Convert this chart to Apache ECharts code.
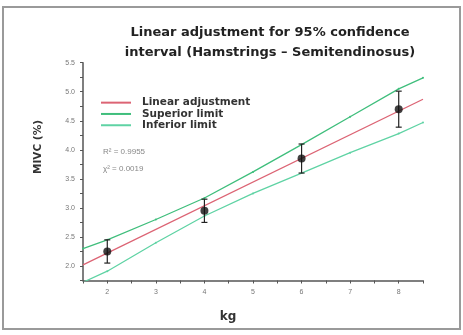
<!DOCTYPE html>
<html><head><meta charset="utf-8">
<script src="https://cdn.jsdelivr.net/npm/echarts@6/dist/echarts.min.js"></script>
<style>html,body{margin:0;padding:0;background:#fff}#c{width:463px;height:335px}</style>
</head><body><div id="c"></div>
<script>
// ---- data ----
const kg = [2, 4, 6, 8];
const mivcMean = [2.25, 2.95, 3.85, 4.70];
const mivcErr = [0.20, 0.20, 0.25, 0.31];
const fitX = [1.5, 8.5];
const fitY = [2.02, 4.87];
const limitX = [1.5, 2, 3, 4, 5, 6, 7, 8, 8.5];
const upperY = [2.30, 2.45, 2.80, 3.17, 3.62, 4.09, 4.57, 5.05, 5.24];
const lowerY = [1.72, 1.91, 2.40, 2.86, 3.25, 3.60, 3.95, 4.28, 4.47];
const xTickLabels = ['2', '3', '4', '5', '6', '7', '8'];
const yTickLabels = ['2.0', '2.5', '3.0', '3.5', '4.0', '4.5', '5.0', '5.5'];
const seriesNames = ['Linear adjustment', 'Superior limit', 'Inferior limit'];
const fitStats = ['R\u00B2 = 0.9955', '\u03C7\u00B2 = 0.0019'];

const FONT = 'Liberation Sans, Arial, sans-serif';
const WFONT = 'DejaVu Sans, Verdana, sans-serif';
const zip = (a, b) => a.map((v, i) => [v, b[i]]);

const chart = echarts.init(document.getElementById('c'), null, {renderer: 'canvas'});
chart.setOption({
  backgroundColor: '#fff',
  animation: false,
  title: {
    text: 'Linear adjustment for 95% confidence\ninterval (Hamstrings \u2013 Semitendinosus)',
    left: 265, top: 18, textAlign: 'center',
    textStyle: {fontFamily: WFONT, fontSize: 13, fontWeight: 'bold', color: '#222', lineHeight: 20}
  },
  legend: {
    orient: 'vertical', left: 96, top: 92, itemGap: 0,
    itemWidth: 30, itemHeight: 2, icon: 'rect',
    data: seriesNames,
    textStyle: {fontFamily: WFONT, fontSize: 10.5, fontWeight: 'bold', color: '#333', lineHeight: 11.3, padding: [0, 0, 0, 6]}
  },
  grid: {left: 83, right: 40, top: 62.7, bottom: 54.5},
  xAxis: {
    type: 'value', min: 1.5, max: 8.5, interval: 0.5,
    axisLine: {lineStyle: {color: '#555', width: 1.5}},
    axisTick: {length: 3, lineStyle: {color: '#555'}},
    splitLine: {show: false},
    axisLabel: {
      fontFamily: FONT, fontSize: 7, color: '#777', margin: 8,
      formatter: v => { const s = String(Math.round(v)); return (Math.abs(v - Math.round(v)) < 1e-6 && xTickLabels.includes(s)) ? s : ''; }
    }
  },
  yAxis: {
    type: 'value', min: 1.75, max: 5.5, interval: 0.25,
    axisLine: {show: true, lineStyle: {color: '#555', width: 1.5}},
    axisTick: {show: true, length: 3, lineStyle: {color: '#555'}},
    splitLine: {show: false},
    axisLabel: {
      fontFamily: FONT, fontSize: 7, color: '#777', margin: 8,
      formatter: v => { const s = v.toFixed(1); return (Math.abs(v * 2 - Math.round(v * 2)) < 1e-6 && yTickLabels.includes(s)) ? s : ''; }
    }
  },
  graphic: [
    {type: 'rect', shape: {x: 3, y: 7, width: 457, height: 322}, style: {fill: 'none', stroke: '#9a9a9a', lineWidth: 2}, silent: true},
    {type: 'text', x: 38, y: 147, rotation: Math.PI / 2,
     style: {text: 'MIVC (%)', fontFamily: WFONT, fontSize: 10.5, fontWeight: 'bold', fill: '#333', align: 'center', verticalAlign: 'middle'}},
    {type: 'text', x: 228, y: 317,
     style: {text: 'kg', fontFamily: WFONT, fontSize: 12, fontWeight: 'bold', fill: '#333', align: 'center', verticalAlign: 'middle'}},
    {type: 'text', x: 103, y: 152,
     style: {text: fitStats[0], fontFamily: FONT, fontSize: 8, fill: '#888', align: 'left', verticalAlign: 'middle'}},
    {type: 'text', x: 103, y: 169,
     style: {text: fitStats[1], fontFamily: FONT, fontSize: 8, fill: '#888', align: 'left', verticalAlign: 'middle'}}
  ],
  series: [
    {name: seriesNames[0], type: 'line', data: zip(fitX, fitY), showSymbol: false,
     lineStyle: {color: '#dc6474', width: 1.3}, itemStyle: {color: '#dc6474'}, z: 3},
    {name: seriesNames[1], type: 'line', data: zip(limitX, upperY), symbol: 'circle', symbolSize: 2,
     lineStyle: {color: '#3fbe7c', width: 1.3}, itemStyle: {color: '#3fbe7c'}, z: 3},
    {name: seriesNames[2], type: 'line', data: zip(limitX, lowerY), symbol: 'circle', symbolSize: 2,
     lineStyle: {color: '#5fd3a4', width: 1.3}, itemStyle: {color: '#5fd3a4'}, z: 3},
    {type: 'custom', z: 5,
     data: kg.map((x, i) => [x, mivcMean[i] - mivcErr[i], mivcMean[i] + mivcErr[i]]),
     renderItem: (params, api) => {
       const lo = api.coord([api.value(0), api.value(1)]);
       const hi = api.coord([api.value(0), api.value(2)]);
       const w = 3;
       const st = {stroke: '#222', lineWidth: 1.2};
       return {type: 'group', children: [
         {type: 'line', shape: {x1: lo[0], y1: lo[1], x2: hi[0], y2: hi[1]}, style: st},
         {type: 'line', shape: {x1: lo[0] - w, y1: lo[1], x2: lo[0] + w, y2: lo[1]}, style: st},
         {type: 'line', shape: {x1: hi[0] - w, y1: hi[1], x2: hi[0] + w, y2: hi[1]}, style: st}
       ]};
     }},
    {type: 'scatter', z: 6, data: zip(kg, mivcMean), symbol: 'circle', symbolSize: 8,
     itemStyle: {color: '#111'}}
  ]
});
</script></body></html>
